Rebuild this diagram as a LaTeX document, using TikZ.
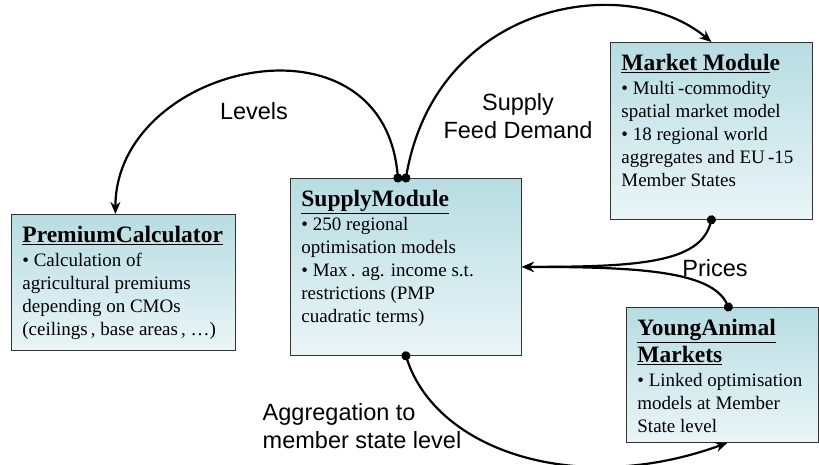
\documentclass[tikz,border=0pt]{standalone}
\usepackage{fontspec}
\setmainfont{Liberation Serif}
\setsansfont{Liberation Sans}
\usetikzlibrary{arrows.meta}

\definecolor{boxtop}{RGB}{182,221,226}
\definecolor{boxbot}{RGB}{234,245,247}

\newcommand{\modtitle}[1]{{\fontsize{23.5}{27}\selectfont\bfseries #1\par}\vspace{1pt}}
\newcommand{\modbody}[3]{\parbox[c][#2][t]{#1}{\raggedright #3}}

\begin{document}
\begin{tikzpicture}[x=1pt,y=1pt,
	module/.style={draw=black!80,line width=0.8pt,top color=boxtop,bottom color=boxbot,
		anchor=north west,inner xsep=11pt,inner ysep=12pt,font=\fontsize{19}{23}\selectfont},
	flow/.style={line width=2.2pt,{Circle[length=9pt,sep=-4.5pt]}-{Stealth[length=12pt,width=10pt]}},
	lbl/.style={font=\sffamily\fontsize{23.5}{28}\selectfont,align=center}]
	\useasboundingbox (0,0) rectangle (819,464);

	% modules
	\node[module] at (11,250) (premium) {\modbody{202pt}{112pt}{%
		\modtitle{\underline{PremiumCalculator}}
		• Calculation of\\agricultural premiums\\depending on CMOs\\(ceilings\,, base areas\,, …)}};
	\node[module] at (290,286) (supply) {\modbody{209pt}{153pt}{%
		\modtitle{\underline{SupplyModule}}
		• 250 regional\\optimisation models\\• Max\,. ag. income s.t.\\restrictions (PMP\\cuadratic terms)}};
	\node[module] at (610,422) (market) {\modbody{180pt}{153pt}{%
		\modtitle{\underline{Market Modul}e}
		• Multi\,-commodity\\spatial market model\\• 18 regional world\\aggregates and EU\,-15\\Member States}};
	\node[module] at (626,157) (young) {\modbody{170pt}{111pt}{%
		\modtitle{\underline{YoungAnimal}\\\underline{Markets}}
		• Linked optimisation\\models at Member\\State level}};

	% flows
	\draw[flow] ([xshift=-8pt]supply.north) .. controls +(95:175) and +(90:150) .. ([xshift=-8pt]premium.north);
	\draw[flow] (supply.north) .. controls +(80:180) and +(140:110) .. (market.north);
	\draw[flow] (market.south) .. controls +(-105:45) and +(0:115) .. (supply.east);
	\draw[flow] ([xshift=6pt]young.north) .. controls +(115:40) and +(0:115) .. (supply.east);
	\draw[flow] (supply.south) .. controls +(-72:100) and +(200:160) .. ([xshift=5pt]young.south);

	% labels
	\node[lbl] (levels) at (254,353) {Levels};
	\node[lbl] (sfd) at (518,348) {Supply\\Feed Demand};
	\node[lbl] (prices) at (715,196) {Prices};
	\node[lbl,align=left] (aggr) at (362,38) {Aggregation to\\member state level};
\end{tikzpicture}
\end{document}
